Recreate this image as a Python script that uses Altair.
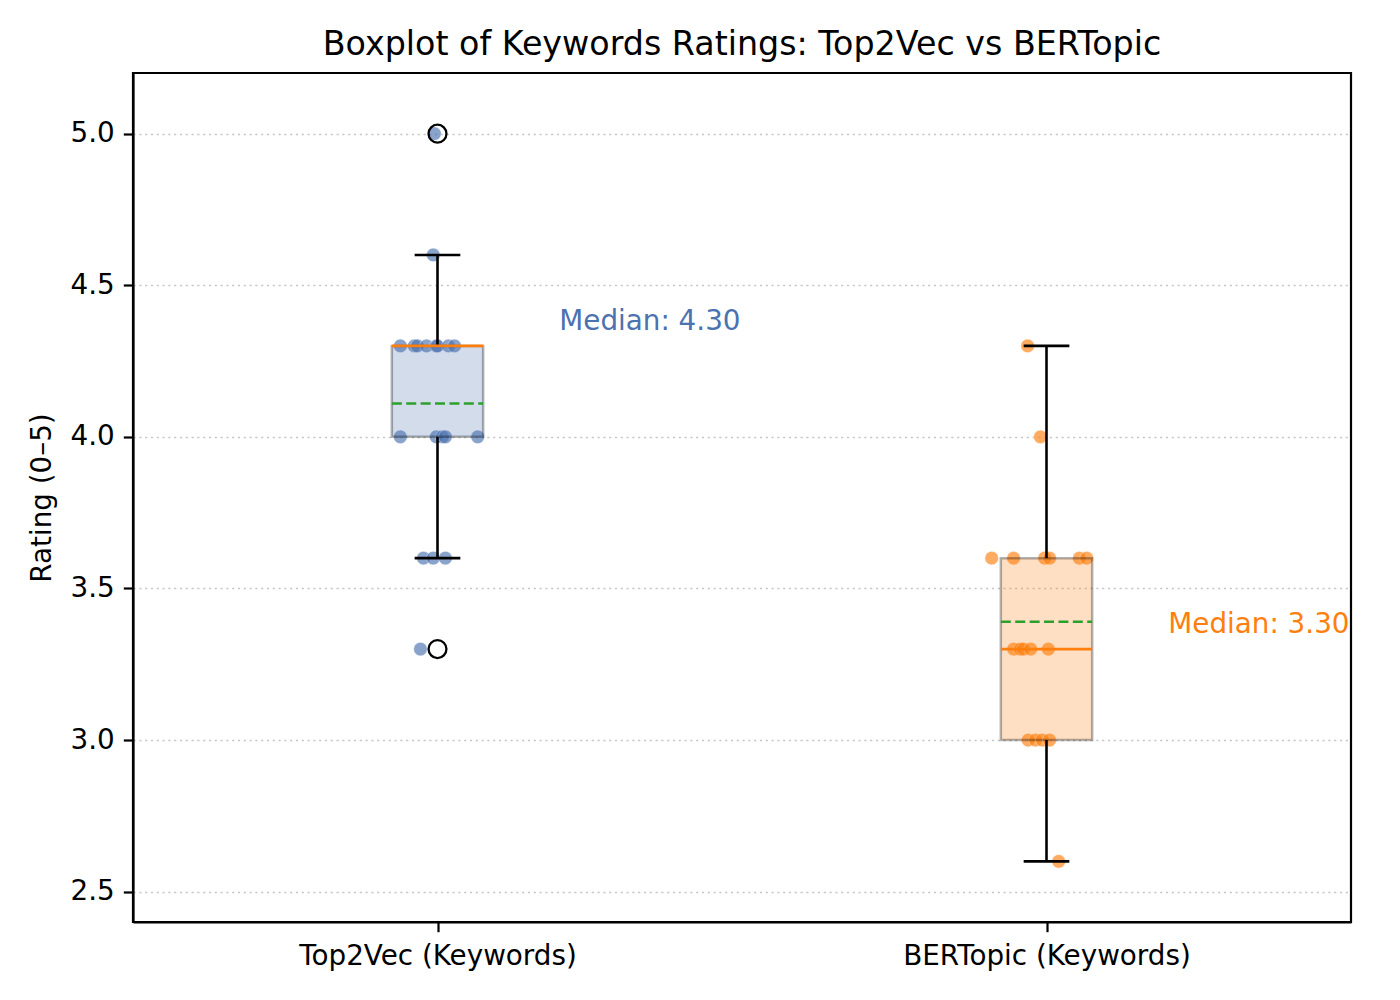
import altair as alt
import pandas as pd

categories = ["Top2Vec (Keywords)", "BERTopic (Keywords)"]
positions = [1, 2]
colors = ["#4C72B0", "#FF7F0E"]

t2v_ratings = [5.0, 4.6, 4.3, 4.3, 4.3, 4.3, 4.3, 4.3, 4.3, 4.3,
               4.0, 4.0, 4.0, 4.0, 4.0, 3.6, 3.6, 3.6, 3.3]
t2v_jitter = [-0.005, -0.007, -0.061, -0.038, -0.033, -0.018, -0.002, 0.000, 0.018, 0.028,
              -0.061, -0.002, 0.008, 0.013, 0.066, -0.023, -0.007, 0.013, -0.028]
bert_ratings = [4.3, 4.0, 3.6, 3.6, 3.6, 3.6, 3.6, 3.6, 3.3, 3.3,
                3.3, 3.3, 3.3, 3.0, 3.0, 3.0, 3.0, 2.6]
bert_jitter = [-0.031, -0.010, -0.090, -0.054, -0.003, 0.005, 0.054, 0.066, -0.054, -0.043,
               -0.038, -0.026, 0.003, -0.030, -0.018, -0.007, 0.005, 0.020]

medians = [4.3, 3.3]
q1s = [4.0, 3.0]
q3s = [4.3, 3.6]
means = [4.11, 3.39]
whisker_lo = [3.6, 2.6]
whisker_hi = [4.6, 4.3]
outlier_cat = ["Top2Vec (Keywords)", "Top2Vec (Keywords)"]
outlier_vals = [5.0, 3.3]

BOX_HALF = 0.075
CAP_HALF = 0.0375
FONT = "DejaVu Sans"

pts = pd.DataFrame({
    "cat": [categories[0]] * len(t2v_ratings) + [categories[1]] * len(bert_ratings),
    "x": [positions[0] + j for j in t2v_jitter] + [positions[1] + j for j in bert_jitter],
    "y": t2v_ratings + bert_ratings,
})

stats = pd.DataFrame({
    "cat": categories,
    "pos": positions,
    "left": [p - BOX_HALF for p in positions],
    "right": [p + BOX_HALF for p in positions],
    "capl": [p - CAP_HALF for p in positions],
    "capr": [p + CAP_HALF for p in positions],
    "q1": q1s, "q3": q3s, "median": medians, "mean": means,
    "wlo": whisker_lo, "whi": whisker_hi,
    "tx": [p + 0.2 for p in positions],
    "ty": [m + 0.08 for m in medians],
    "label": [f"Median: {m:.2f}" for m in medians],
})

outl = pd.DataFrame({
    "x": [positions[categories.index(c)] for c in outlier_cat],
    "y": outlier_vals,
})

xs = alt.Scale(domain=[0.5, 2.5], nice=False, zero=False)
ys = alt.Scale(domain=[2.4, 5.2], nice=False, zero=False)
xaxis = alt.Axis(values=[1, 2], labelExpr="datum.value == 1 ? 'Top2Vec (Keywords)' : 'BERTopic (Keywords)'",
                 grid=False, title=None, labelLimit=0, labelPadding=11)
yaxis = alt.Axis(values=[2.5, 3.0, 3.5, 4.0, 4.5, 5.0], format=".1f", grid=True,
                 title="Rating (0–5)")
ccol = alt.Color("cat:N", scale=alt.Scale(domain=categories, range=colors), legend=None)


def X(f):
    return alt.X(f"{f}:Q", scale=xs, axis=xaxis)


def Y(f):
    return alt.Y(f"{f}:Q", scale=ys, axis=yaxis)


points = alt.Chart(pts).mark_circle(size=190, opacity=0.65, stroke="white", strokeWidth=0.6).encode(
    x=X("x"), y=Y("y"), color=ccol)

box = alt.Chart(stats).mark_rect(fillOpacity=0.25, stroke="black", strokeOpacity=0.3, strokeWidth=2.5).encode(
    x=X("left"), x2="right", y=Y("q1"), y2="q3",
    fill=alt.Fill("cat:N", scale=alt.Scale(domain=categories, range=colors), legend=None))

wlow = alt.Chart(stats).mark_rule(color="black", strokeWidth=2.6).encode(x=X("pos"), y=Y("wlo"), y2="q1")
whigh = alt.Chart(stats).mark_rule(color="black", strokeWidth=2.6).encode(x=X("pos"), y=Y("q3"), y2="whi")
caplo = alt.Chart(stats).mark_rule(color="black", strokeWidth=2.6).encode(x=X("capl"), x2="capr", y=Y("wlo"))
caphi = alt.Chart(stats).mark_rule(color="black", strokeWidth=2.6).encode(x=X("capl"), x2="capr", y=Y("whi"))
med = alt.Chart(stats).mark_rule(color="#FF7F0E", strokeWidth=2.6).encode(x=X("left"), x2="right", y=Y("median"))
mean = alt.Chart(stats).mark_rule(color="#2CA02C", strokeWidth=2.6, strokeDash=[10, 4.4]).encode(
    x=X("left"), x2="right", y=Y("mean"))
fliers = alt.Chart(outl).mark_point(shape="circle", size=320, filled=False, color="black", strokeWidth=2.3, opacity=1).encode(
    x=X("x"), y=Y("y"))
texts = alt.Chart(stats).mark_text(align="left", baseline="middle", font=FONT, fontSize=27.8).encode(
    x=X("tx"), y=Y("ty"), text="label:N", color=ccol)

chart = alt.layer(points, box, wlow, whigh, caplo, caphi, med, mean, fliers, texts).properties(
    width=1218, height=849,
    background="white",
    autosize=alt.AutoSizeParams(type="none"),
    padding={"left": 125, "top": 65, "right": 41, "bottom": 70},
    title=alt.Title("Boxplot of Keywords Ratings: Top2Vec vs BERTopic", font=FONT, fontSize=33.3,
                    fontWeight="normal", color="black", anchor="middle", offset=11),
).configure_axis(
    labelFont=FONT, labelFontSize=27.8, labelColor="black",
    titleFont=FONT, titleFontSize=27.8, titleColor="black", titleFontWeight="normal",
    tickColor="black", tickSize=9.7, tickWidth=2.2,
    domainColor="black", domainWidth=2.2,
    labelPadding=9, titlePadding=14,
    gridColor="#c8c8c8", gridWidth=1.6, gridDash=[2.2, 3.6],
).configure_view(stroke="black", strokeWidth=2.2)

chart.save("out.html", embed_options={"renderer": "svg", "actions": False})
